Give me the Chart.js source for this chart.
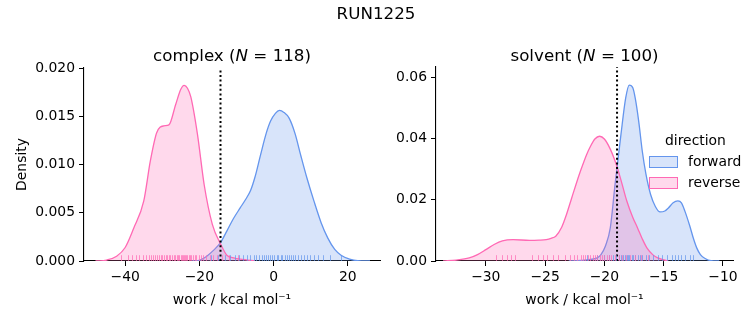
<!DOCTYPE html>
<html>
<head>
<meta charset="utf-8">
<script src="https://cdn.jsdelivr.net/npm/chart.js@4"></script>
<style>
  body { margin: 0; background: #fff; font-family: "DejaVu Sans", sans-serif; color: #000; }
  #wrap { position: relative; width: 753px; height: 325px; overflow: hidden; }
  canvas { position: absolute; top: 0; }
  .txt { position: absolute; white-space: nowrap; line-height: 1; }
  .ttl { font-size: 16.7px; transform: translateX(-50%); }
  .lg { font-size: 13.9px; }
  .patch { position: absolute; width: 27px; height: 10px; }
</style>
</head>
<body>
<div id="wrap">
  <canvas id="left" width="390" height="325" style="left:0"></canvas>
  <canvas id="right" width="363" height="325" style="left:390px"></canvas>

  <div class="txt ttl" style="left:376px; top:5px">RUN1225</div>
  <div class="txt ttl" style="left:232px; top:47px">complex (<i>N</i> = 118)</div>
  <div class="txt ttl" style="left:584.5px; top:47px">solvent (<i>N</i> = 100)</div>

  <div class="txt lg" style="left:665px; top:134px">direction</div>
  <div class="patch" style="left:649px; top:156px; background:rgba(100,149,237,0.25); border:1px solid #6495ed"></div>
  <div class="txt lg" style="left:688px; top:155px">forward</div>
  <div class="patch" style="left:649px; top:177px; background:rgba(255,105,180,0.25); border:1px solid #ff69b4"></div>
  <div class="txt lg" style="left:688px; top:176px">reverse</div>
</div>

<script>
// --- complex leg: KDE curves ---
const complexRevX = [-48, -45, -42.3, -40, -37.7, -35, -33.2, -31.5, -29.6, -28.2, -26.4, -25, -24.1, -23.2, -22.3, -20.5, -18.7, -16.5, -14.2, -12.6, -10.5, -9, -7, -5];
const complexRevY = [0, 0.0001, 0.0005, 0.0014, 0.0034, 0.0062, 0.0104, 0.0133, 0.0140, 0.0141, 0.0162, 0.0178, 0.0182, 0.0179, 0.0170, 0.0131, 0.0079, 0.0038, 0.0017, 0.0006, 0.0003, 0.0002, 0.0001, 0];
const complexFwdX = [-22, -19.8, -18, -16.2, -14.3, -12.6, -10.8, -9, -7.5, -6.2, -5, -3.5, -2, -0.8, 0.5, 1.6, 2.8, 4.2, 5.8, 7.3, 9, 10.9, 12.8, 14.6, 16.5, 18.2, 20.5, 22.7, 26];
const complexFwdY = [0, 0.0001, 0.0005, 0.0011, 0.0019, 0.0031, 0.0044, 0.0055, 0.0064, 0.0073, 0.0087, 0.0110, 0.0132, 0.0145, 0.0153, 0.0156, 0.0154, 0.0148, 0.0132, 0.0110, 0.0086, 0.0062, 0.0040, 0.0024, 0.0012, 0.0006, 0.0002, 0.00003, 0];

// --- solvent leg ---
const solventRevX = [-33.6, -32.5, -31.4, -30.7, -30, -29.3, -28.6, -27.7, -26.3, -25.5, -24.9, -24.5, -24.1, -23.6, -23.2, -22.8, -22.4, -22, -21.5, -21.2, -20.8, -20.4, -20, -19.5, -18.9, -18.5, -18.1, -17.6, -17.2, -16.8, -16.4, -15.9, -15.5, -14.6];
const solventRevY = [0, 0.0003, 0.001, 0.0021, 0.0037, 0.0054, 0.0066, 0.0070, 0.0067, 0.0068, 0.0070, 0.0074, 0.0081, 0.0110, 0.0151, 0.0200, 0.0249, 0.0295, 0.0347, 0.0372, 0.0398, 0.0407, 0.0398, 0.0365, 0.0304, 0.0250, 0.0195, 0.0142, 0.0108, 0.0072, 0.0042, 0.0020, 0.0010, 0];
const solventFwdX = [-23, -22, -21.2, -20.6, -20.3, -19.9, -19.5, -19.1, -18.6, -18.2, -17.9, -17.6, -17.4, -17.1, -16.8, -16.5, -16.1, -15.7, -15.3, -14.9, -14.6, -14.2, -13.8, -13.5, -13.2, -12.8, -12.5, -12.2, -11.9, -11.5, -11, -10.3];
const solventFwdY = [0, 0.0002, 0.0005, 0.001, 0.002, 0.0050, 0.0108, 0.0249, 0.0413, 0.0532, 0.0574, 0.0565, 0.0532, 0.0455, 0.0358, 0.0285, 0.0217, 0.0178, 0.0160, 0.0163, 0.0173, 0.0190, 0.0196, 0.0190, 0.0162, 0.0115, 0.0075, 0.0042, 0.0021, 0.0008, 0.0001, 0];

// rug samples (individual work values)
const complexRevRug = [-41.0, -39.2, -38.1, -37.0, -36.2, -35.1, -34.3, -33.6, -33.0, -32.4, -31.9, -31.3, -30.8, -30.4, -30.0, -29.6, -29.1, -28.7, -28.2, -27.8, -27.3, -26.9, -26.5, -26.1, -25.8, -25.4, -25.0, -24.7, -24.4, -24.1, -23.8, -23.5, -23.2, -22.9, -22.6, -22.2, -21.8, -21.3, -20.8, -20.2, -19.6, -18.9, -18.1, -17.2, -16.3, -15.2, -13.8, -12.1, -9.5];
const complexFwdRug = [-16.8, -14.9, -13.2, -11.7, -10.4, -9.3, -8.2, -7.1, -6.3, -5.4, -4.6, -3.9, -3.2, -2.6, -2.0, -1.4, -0.9, -0.3, 0.2, 0.8, 1.3, 1.9, 2.4, 3.0, 3.5, 4.1, 4.7, 5.3, 5.9, 6.6, 7.3, 8.1, 8.9, 9.8, 10.8, 11.9, 13.2, 15.1, 18.3];
const solventRevRug = [-29.1, -28.6, -28.2, -27.9, -27.5, -26.1, -25.6, -25.2, -24.8, -24.3, -23.9, -23.3, -22.9, -22.6, -22.3, -22.0, -21.8, -21.6, -21.4, -21.2, -21.0, -20.8, -20.6, -20.4, -20.2, -20.0, -19.8, -19.6, -19.4, -19.1, -18.8, -18.5, -18.2, -17.8, -17.4, -16.9, -16.3];
const solventFwdRug = [-21.5, -20.6, -20.0, -19.6, -19.3, -19.0, -18.8, -18.6, -18.4, -18.3, -18.1, -18.0, -17.9, -17.7, -17.6, -17.4, -17.2, -17.0, -16.8, -16.5, -16.2, -15.9, -15.5, -15.1, -14.7, -14.3, -14.0, -13.8, -13.5, -13.2, -12.8, -12.5];

// dotted reference lines
const complexLine = -14.3;
const solventLine = -18.93;

// axis limits and ticks
const complexXRange = [-51.1, 28.7];
const complexYRange = [0, 0.02];
const complexXTicks = [-40, -20, 0, 20];
const complexYTicks = [0, 0.005, 0.01, 0.015, 0.02];
const solventXRange = [-34.2, -9.15];
const solventYRange = [0, 0.0633];
const solventXTicks = [-30, -25, -20, -15, -10];
const solventYTicks = [0, 0.02, 0.04, 0.06];

const BLUE = '#6495ed';
const PINK = '#ff69b4';
const FONT = { family: 'DejaVu Sans', size: 13.9 };

const rugPlugin = {
  id: 'rug',
  afterDatasetsDraw(chart, args, opts) {
    const { ctx, chartArea } = chart;
    const xs = chart.scales.x;
    const h = (chartArea.bottom - chartArea.top) * 0.03;
    ctx.save();
    ctx.lineWidth = 1;
    (opts.sets || []).forEach(s => {
      ctx.strokeStyle = s.color;
      s.values.forEach(v => {
        const x = Math.round(xs.getPixelForValue(v)) + 0.5;
        ctx.beginPath();
        ctx.moveTo(x, chartArea.bottom);
        ctx.lineTo(x, chartArea.bottom - h);
        ctx.stroke();
      });
    });
    ctx.restore();
  }
};

function pts(xs, ys) {
  return xs.map((x, i) => ({ x: x, y: ys[i] }));
}

function kde(label, xs, ys, color, fill) {
  return {
    label: label,
    data: pts(xs, ys),
    borderColor: color,
    backgroundColor: fill,
    borderWidth: 1.3,
    fill: 'origin',
    pointRadius: 0,
    cubicInterpolationMode: 'monotone',
  };
}

function makeChart(id, cfg) {
  const yAxis = {
    type: 'linear',
    min: cfg.yRange[0],
    max: cfg.yRange[1],
    afterFit(a) { a.width = cfg.yWidth; },
    afterBuildTicks(a) { a.ticks = cfg.yTicks.map(v => ({ value: v })); },
    grid: { drawOnChartArea: false, drawTicks: true, tickLength: 5, color: '#000' },
    border: { display: true, color: '#000', width: 1.1 },
    ticks: {
      color: '#000', font: FONT, padding: 4,
      callback: v => v.toFixed(cfg.yDigits),
    },
    title: {
      display: !!cfg.yTitle, text: cfg.yTitle || '', color: '#000', font: FONT,
      padding: { top: 13.7, bottom: 0 },
    },
  };
  const xAxis = {
    type: 'linear',
    min: cfg.xRange[0],
    max: cfg.xRange[1],
    afterFit(a) { a.height = 64; },
    afterBuildTicks(a) { a.ticks = cfg.xTicks.map(v => ({ value: v })); },
    grid: { drawOnChartArea: false, drawTicks: true, tickLength: 5, color: '#000' },
    border: { display: true, color: '#000', width: 1.1 },
    ticks: {
      color: '#000', font: FONT, padding: 3, maxRotation: 0,
      callback: v => String(v).replace('-', '\u2212'),
    },
    title: {
      display: true, text: 'work / kcal mol\u207B\u00B9', color: '#000', font: FONT,
      padding: { top: 0, bottom: 16.7 },
    },
  };

  return new Chart(document.getElementById(id), {
    type: 'line',
    data: {
      datasets: [
        {
          label: 'mean',
          data: [{ x: cfg.line, y: cfg.yRange[0] }, { x: cfg.line, y: cfg.yRange[1] }],
          borderColor: '#000',
          borderWidth: 2,
          borderDash: [2, 2.6],
          pointRadius: 0,
          fill: false,
          order: 0,
        },
        Object.assign(kde('reverse', cfg.revX, cfg.revY, PINK, 'rgba(255,105,180,0.25)'), { order: 1 }),
        Object.assign(kde('forward', cfg.fwdX, cfg.fwdY, BLUE, 'rgba(100,149,237,0.25)'), { order: 2 }),
      ],
    },
    options: {
      responsive: false,
      animation: false,
      devicePixelRatio: 1,
      layout: { padding: { left: 0, right: cfg.padRight, top: cfg.padTop, bottom: 0 } },
      scales: { x: xAxis, y: yAxis },
      plugins: {
        legend: { display: false },
        tooltip: { enabled: false },
        rug: { sets: [
          { values: cfg.fwdRug, color: 'rgba(100,149,237,0.7)' },
          { values: cfg.revRug, color: 'rgba(255,105,180,0.7)' },
        ] },
      },
    },
    plugins: [rugPlugin],
  });
}

makeChart('left', {
  revX: complexRevX, revY: complexRevY, fwdX: complexFwdX, fwdY: complexFwdY,
  revRug: complexRevRug, fwdRug: complexFwdRug, line: complexLine,
  xRange: complexXRange, yRange: complexYRange, xTicks: complexXTicks, yTicks: complexYTicks,
  yDigits: 3, yTitle: 'Density', yWidth: 84, padRight: 10, padTop: 68,
});

makeChart('right', {
  revX: solventRevX, revY: solventRevY, fwdX: solventFwdX, fwdY: solventFwdY,
  revRug: solventRevRug, fwdRug: solventFwdRug, line: solventLine,
  xRange: solventXRange, yRange: solventYRange, xTicks: solventXTicks, yTicks: solventYTicks,
  yDigits: 2, yTitle: '', yWidth: 46, padRight: 20, padTop: 67,
});
</script>
</body>
</html>
